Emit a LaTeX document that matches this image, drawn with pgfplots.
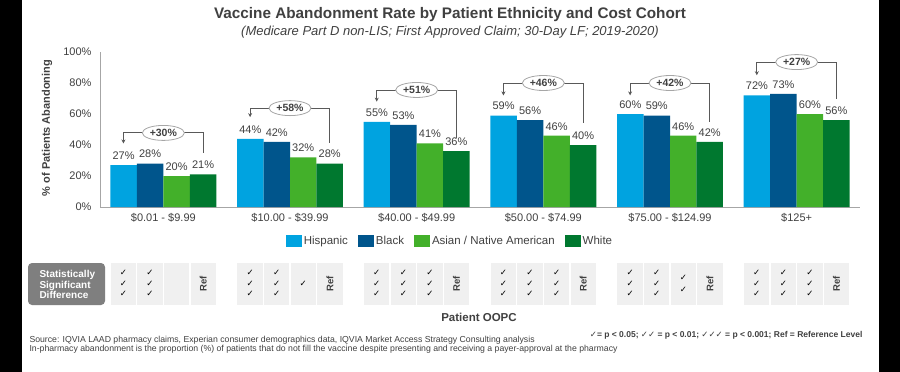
\documentclass[border=0pt]{standalone}
\usepackage{pgfplots}
\pgfplotsset{compat=1.18}
\usepackage{fontspec}
\setmainfont{Liberation Sans}
\newfontfamily\dejavu{DejaVu Sans}
\usetikzlibrary{arrows.meta,shapes.geometric}

\definecolor{cHisp}{HTML}{00A3E0}
\definecolor{cBlack}{HTML}{00558C}
\definecolor{cAsian}{HTML}{43B02A}
\definecolor{cWhite}{HTML}{00782F}
\definecolor{txt}{HTML}{404040}
\definecolor{axisgray}{HTML}{A6A6A6}
\definecolor{cellgray}{HTML}{F0F0F0}
\definecolor{boxgray}{HTML}{7F7F7F}
\definecolor{brk}{HTML}{595959}

\newcommand{\fs}[1]{\fontsize{#1bp}{1.2\dimexpr#1bp\relax}\selectfont}

\begin{document}
\begin{tikzpicture}
\useasboundingbox (0,0) rectangle (900bp,-372bp);
\fill[white] (0,0) rectangle (900bp,-372bp);
\fill[black] (0,0) rectangle (22bp,-372bp);
\fill[black] (879bp,0) rectangle (900bp,-372bp);

\begin{axis}[
  at={(100bp,-207bp)}, anchor=south west,
  scale only axis, width=760bp, height=155bp,
  xmin=-0.5, xmax=5.5, ymin=0, ymax=100,
  ybar=0pt, bar width=0.209,
  axis x line*=bottom, axis y line*=left,
  axis line style={axisgray, line width=0.8bp, -},
  major tick length=0pt,
  xtick={0,...,5},
  xticklabels={{\$0.01 - \$9.99},{\$10.00 - \$39.99},{\$40.00 - \$49.99},{\$50.00 - \$74.99},{\$75.00 - \$124.99},{\$125+}},
  ytick={0,20,...,100},
  yticklabel={\pgfmathprintnumber{\tick}\%},
  /pgf/number format/assume math mode=true,
  ticklabel style={font=\fs{11}, text=txt},
  xticklabel style={yshift=-3bp},
  yticklabel style={xshift=-5bp},
  nodes near coords={\pgfmathprintnumber{\pgfplotspointmeta}\%},
  every node near coord/.append style={font=\fs{11}, text=txt, yshift=2bp},
  clip=false,
  legend style={at={(0.4605,-0.219)}, anchor=center, draw=none, fill=none,
    legend columns=4, font=\fs{11.5}, text=txt,
    /tikz/every even column/.append style={column sep=8bp}},
  legend image code/.code={\fill[#1] (0bp,-6bp) rectangle (16bp,6bp);},
]
\addplot[fill=cHisp, draw=none] coordinates {(0,27) (1,44) (2,55) (3,59) (4,60) (5,72)};
\addlegendentry{Hispanic}
\addplot[fill=cBlack, draw=none] coordinates {(0,28) (1,42) (2,53) (3,56) (4,59) (5,73)};
\addlegendentry{Black}
\addplot[fill=cAsian, draw=none] coordinates {(0,20) (1,32) (2,41) (3,46) (4,46) (5,60)};
\addlegendentry{Asian / Native American}
\addplot[fill=cWhite, draw=none] coordinates {(0,21) (1,28) (2,36) (3,40) (4,42) (5,56)};
\addlegendentry{White}

% brackets
\tikzset{brkline/.style={draw=brk, line width=0.9bp, {Stealth[length=4bp,width=4bp]}-},
  pct/.style={ellipse, draw=axisgray, fill=white, line width=0.8bp, minimum width=42bp, minimum height=15bp, inner sep=0pt, font=\bfseries\fs{10.5}, text=txt}}
\draw[brkline] (axis cs:-0.315,41) -- (axis cs:-0.315,47.8) -- (axis cs:0.315,47.8) -- (axis cs:0.315,34.7);
\node[pct] at (axis cs:0,47.8) {+30\%};
\draw[brkline] (axis cs:0.685,58) -- (axis cs:0.685,63.8) -- (axis cs:1.315,63.8) -- (axis cs:1.315,41);
\node[pct] at (axis cs:1,63.8) {+58\%};
\draw[brkline] (axis cs:1.685,68) -- (axis cs:1.685,75.5) -- (axis cs:2.315,75.5) -- (axis cs:2.315,44.5);
\node[pct] at (axis cs:2,75.5) {+51\%};
\draw[brkline] (axis cs:2.685,72) -- (axis cs:2.685,80) -- (axis cs:3.315,80) -- (axis cs:3.315,54);
\node[pct] at (axis cs:3,80) {+46\%};
\draw[brkline] (axis cs:3.685,72) -- (axis cs:3.685,80) -- (axis cs:4.315,80) -- (axis cs:4.315,55);
\node[pct] at (axis cs:4,80) {+42\%};
\draw[brkline] (axis cs:4.685,85) -- (axis cs:4.685,93.5) -- (axis cs:5.315,93.5) -- (axis cs:5.315,70);
\node[pct] at (axis cs:5,93.5) {+27\%};
\end{axis}

\begin{scope}[x=1bp,y=-1bp]
\node[font=\bfseries\fs{15.3}, text=txt] at (450,15) {Vaccine Abandonment Rate by Patient Ethnicity and Cost Cohort};
\node[font=\itshape\fs{13}, text=txt] at (450,32) {(Medicare Part D non-LIS; First Approved Claim; 30-Day LF; 2019-2020)};
\node[rotate=90, font=\bfseries\fs{11}, text=txt] at (47,128) {\% of Patients Abandoning};

% significance table
\fill[boxgray, rounded corners=4bp] (28,263) rectangle (105,305);
\node[anchor=west, align=left, text=white, font=\bfseries\fs{10}] at (36,284.5) {Statistically\\[-1.5bp]Significant\\[-1.5bp]Difference};
\foreach \g/\na/\nb/\nc in {0/3/3/0, 1/3/3/1, 2/3/3/3, 3/3/3/3, 4/3/3/2, 5/3/3/3} {
  \pgfmathsetmacro\cx{163.33+126.67*\g}
  \foreach \k/\n in {0/\na,1/\nb,2/\nc} {
    \pgfmathsetmacro\xx{\cx-39.9+26.6*\k}
    \fill[cellgray] (\xx-12.7,263) rectangle (\xx+12.7,305);
    \ifcase\n
    \or
      \node[font=\dejavu\fs{8.5}, text=black, inner sep=0] at (\xx,284) {✓};
    \or
      \node[font=\dejavu\fs{8.5}, text=black, inner sep=0] at (\xx,278) {✓};
      \node[font=\dejavu\fs{8.5}, text=black, inner sep=0] at (\xx,290) {✓};
    \or
      \node[font=\dejavu\fs{8.5}, text=black, inner sep=0] at (\xx,273) {✓};
      \node[font=\dejavu\fs{8.5}, text=black, inner sep=0] at (\xx,283.5) {✓};
      \node[font=\dejavu\fs{8.5}, text=black, inner sep=0] at (\xx,294) {✓};
    \fi
  }
  \pgfmathsetmacro\xr{\cx+39.9}
  \fill[cellgray] (\xr-12.7,263) rectangle (\xr+12.7,305);
  \node[rotate=90, font=\bfseries\fs{9.5}, text=txt] at (\xr,284) {Ref};
}

\node[font=\bfseries\fs{11.5}, text=txt] at (479,317) {Patient OOPC};
\node[anchor=east, font=\bfseries\fs{8.5}, text=txt] at (866,335) {{\dejavu ✓}= p < 0.05; {\dejavu ✓✓} = p < 0.01; {\dejavu ✓✓✓} = p < 0.001; Ref = Reference Level};
\node[anchor=west, align=left, font=\fontsize{8.7bp}{8.9bp}\selectfont, text=txt] at (26,345) {Source: IQVIA LAAD pharmacy claims, Experian consumer demographics data, IQVIA Market Access Strategy Consulting analysis\\In-pharmacy abandonment is the proportion (\%) of patients that do not fill the vaccine despite presenting and receiving a payer-approval at the pharmacy};
\end{scope}
\end{tikzpicture}
\end{document}
